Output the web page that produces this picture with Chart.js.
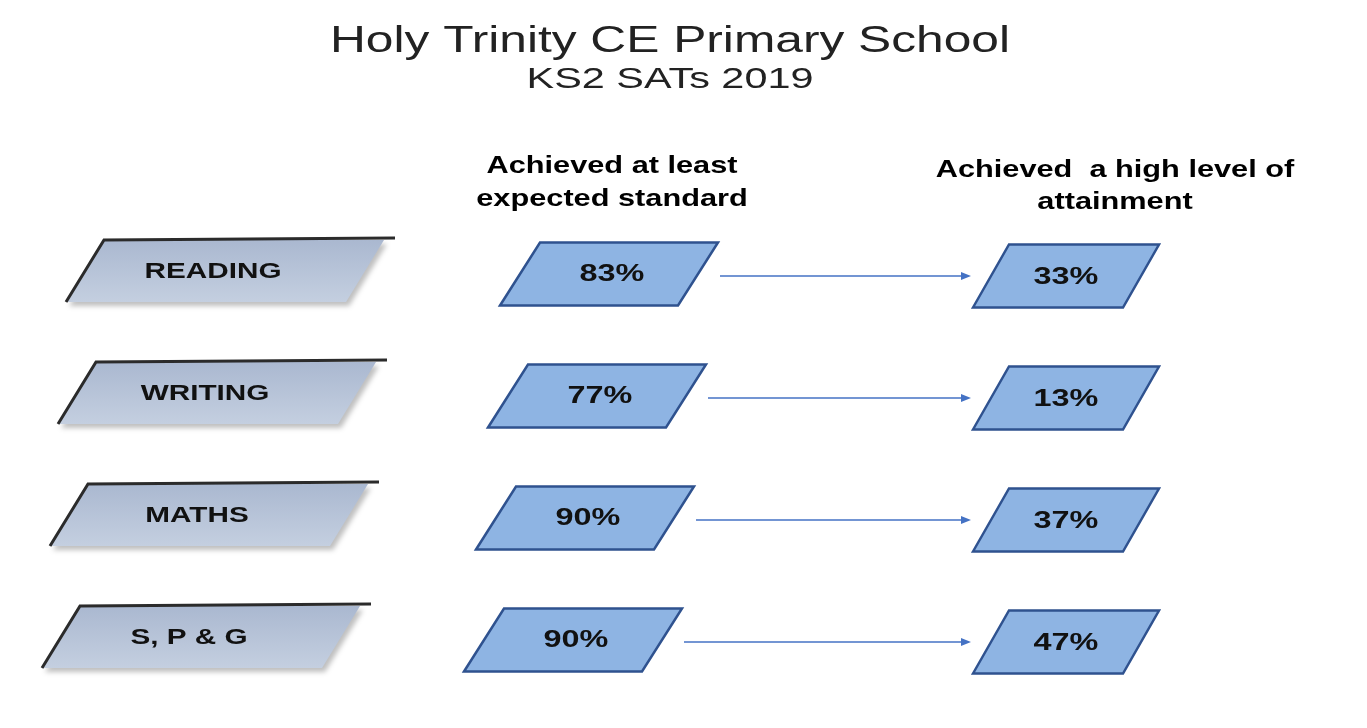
<!DOCTYPE html>
<html><head><meta charset="utf-8">
<script src="https://cdn.jsdelivr.net/npm/chart.js@4"></script>
<style>html,body{margin:0;background:#fff}#wrap{width:1367px;height:728px}</style>
</head><body><div id="wrap"><canvas id="c"></canvas></div>
<script>
// subjects and results
const subjects = ['READING', 'WRITING', 'MATHS', 'S, P & G'];
const expected = [83, 77, 90, 90];
const highLevel = [33, 13, 37, 47];
const titleText = 'Holy Trinity CE Primary School';
const subText = 'KS2 SATs 2019';
const headLeft = ['Achieved at least', 'expected standard'];
const headRight = ['Achieved  a high level of', 'attainment'];

// column positions on the x scale
const colLabel = 225, colExp = 600, colHigh = 1066;

function para(ctx, cx, cy, w, h, skew) {
  ctx.beginPath();
  ctx.moveTo(cx - w / 2 - skew / 2, cy + h / 2);
  ctx.lineTo(cx - w / 2 + skew / 2, cy - h / 2);
  ctx.lineTo(cx + w / 2 + skew / 2, cy - h / 2);
  ctx.lineTo(cx + w / 2 - skew / 2, cy + h / 2);
  ctx.closePath();
}

// the original picture is stretched sideways, so widen the text a bit
function wideText(ctx, t, x, y, sx) {
  ctx.save();
  ctx.translate(x, y);
  ctx.scale(sx, 1);
  ctx.fillText(t, 0, 0);
  ctx.restore();
}

const drawBoxes = {
  id: 'drawBoxes',
  afterDatasetsDraw(chart) {
    const ctx = chart.ctx, xs = chart.scales.x, ys = chart.scales.y;
    ctx.save();
    ctx.fillStyle = '#222';
    ctx.textAlign = 'center';
    ctx.textBaseline = 'middle';
    ctx.font = '36px "Liberation Sans", Arial';
    wideText(ctx, titleText, 670, 42, 1.38);
    ctx.font = '30px "Liberation Sans", Arial';
    wideText(ctx, subText, 670, 80, 1.38);
    ctx.fillStyle = '#000';
    ctx.font = 'bold 24px "Liberation Sans", Arial';
    headLeft.forEach((t, i) => wideText(ctx, t, 612, 166 + i * 33, 1.28));
    headRight.forEach((t, i) => wideText(ctx, t, 1115, 170 + i * 32, 1.28));

    subjects.forEach((s, i) => {
      const y = ys.getPixelForValue(i);
      // label shape
      const lx = xs.getPixelForValue(colLabel) - i * 8;
      ctx.save();
      ctx.shadowColor = 'rgba(0,0,0,0.25)';
      ctx.shadowOffsetX = 3; ctx.shadowOffsetY = 4; ctx.shadowBlur = 5;
      para(ctx, lx, y, 280, 62, 38);
      const g = ctx.createLinearGradient(0, y - 31, 0, y + 31);
      g.addColorStop(0, '#aab8d0'); g.addColorStop(1, '#c4cfe0');
      ctx.fillStyle = g; ctx.fill();
      ctx.restore();
      ctx.strokeStyle = '#2b2b2b'; ctx.lineWidth = 3;
      ctx.beginPath();
      ctx.moveTo(lx - 140 - 19, y + 31); ctx.lineTo(lx - 140 + 19, y - 31); ctx.lineTo(lx + 140 + 30, y - 33);
      ctx.stroke();
      ctx.fillStyle = '#111';
      ctx.font = 'bold 22px "Liberation Sans", Arial';
      wideText(ctx, s, lx - 12, y + 1, 1.35);

      // value boxes
      const ex = xs.getPixelForValue(colExp) - i * 12;
      const hx = xs.getPixelForValue(colHigh);
      ctx.lineWidth = 2.5; ctx.strokeStyle = '#2f528f'; ctx.fillStyle = '#8eb4e3';
      para(ctx, ex + 9, y + 3, 178, 63, 40); ctx.fill(); ctx.stroke();
      para(ctx, hx, y + 5, 150, 63, 36); ctx.fill(); ctx.stroke();
      ctx.fillStyle = '#111';
      ctx.font = 'bold 24px "Liberation Sans", Arial';
      wideText(ctx, expected[i] + '%', ex + 12, y + 3, 1.35);
      wideText(ctx, highLevel[i] + '%', hx, y + 6, 1.35);

      // arrow
      const a0 = ex + 120, a1 = hx - 95, ay = y + 5;
      ctx.strokeStyle = '#4472c4'; ctx.fillStyle = '#4472c4'; ctx.lineWidth = 1.5;
      ctx.beginPath(); ctx.moveTo(a0, ay); ctx.lineTo(a1 - 8, ay); ctx.stroke();
      ctx.beginPath(); ctx.moveTo(a1, ay); ctx.lineTo(a1 - 10, ay - 4); ctx.lineTo(a1 - 10, ay + 4); ctx.closePath(); ctx.fill();
    });
    ctx.restore();
  }
};

new Chart(document.getElementById('c'), {
  type: 'scatter',
  data: {
    labels: subjects,
    datasets: [{ data: subjects.map((s, i) => ({ x: colExp, y: i })), pointRadius: 0 }]
  },
  options: {
    responsive: true, maintainAspectRatio: false, animation: false,
    layout: { padding: { top: 210, bottom: 30, left: 0, right: 0 } },
    plugins: { legend: { display: false }, tooltip: { enabled: false } },
    scales: {
      x: { type: 'linear', min: 0, max: 1367, display: false },
      y: { type: 'category', labels: [0, 1, 2, 3], offset: true, display: false }
    }
  },
  plugins: [drawBoxes]
});
</script></body></html>
